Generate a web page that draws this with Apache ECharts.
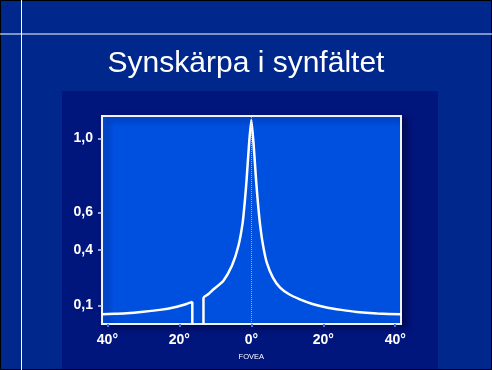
<!DOCTYPE html>
<html>
<head>
<meta charset="utf-8">
<script src="https://cdn.jsdelivr.net/npm/echarts@6/dist/echarts.min.js"></script>
<style>
  html, body { margin: 0; padding: 0; background: #00288c; }
  #chart { width: 492px; height: 370px; }
</style>
</head>
<body>
<div id="chart"></div>
<script>
// synskärpa (acuity) vs. vinkel från fovea
const peripheryAngles = [-41.5, -38, -34.6, -30, -25.4, -21, -18, -16.4, -16.4];
const peripheryAcuity = [0.052, 0.055, 0.058, 0.066, 0.076, 0.092, 0.108, 0.119, 0];

const centralAngles = [-13.3, -13.3, -12, -10.5, -7.8, -5.4, -3.6, -2.4, -1.75, -1.3, -0.7, 0,
  0.7, 1.3, 1.8, 2.4, 3.2, 4.3, 6, 8, 10.5, 13.5, 17, 20.9, 25, 29.3, 35, 41.6];
const centralAcuity = [0, 0.14, 0.16, 0.187, 0.232, 0.313, 0.42, 0.546, 0.672, 0.78, 0.95, 1.1,
  0.95, 0.78, 0.66, 0.54, 0.43, 0.33, 0.25, 0.196, 0.16, 0.133, 0.108, 0.089, 0.076, 0.065, 0.057, 0.052];

const xTicks = [-40, -20, 0, 20, 40];
const yTicks = [0.1, 0.4, 0.6, 1.0];

const toPairs = (xs, ys) => xs.map((x, i) => [x, ys[i]]);

const chart = echarts.init(document.getElementById('chart'));

const lineStyle = { color: '#ffffff', width: 2.5 };

const option = {
  backgroundColor: '#00288c',
  animation: false,
  graphic: [
    // ram runt hela bilden
    { type: 'rect', shape: { x: 0.5, y: 0.5, width: 491, height: 369 }, style: { fill: 'none', stroke: '#000', lineWidth: 1 } },
    // vita linjer
    { type: 'line', shape: { x1: 0, y1: 34, x2: 492, y2: 34 }, style: { stroke: '#ffffff', lineWidth: 1 } },
    { type: 'line', shape: { x1: 21.5, y1: 0, x2: 21.5, y2: 370 }, style: { stroke: '#ffffff', lineWidth: 1 } },
    // mörk panel bakom diagrammet
    { type: 'rect', z: -10, shape: { x: 62, y: 91, width: 376, height: 279 }, style: { fill: '#00167d' } },
    {
      type: 'text', left: 'center', top: 49,
      style: { text: 'Synskärpa i synfältet', fill: '#ffffff', font: '30px "Liberation Sans", Arial, sans-serif' }
    }
  ],
  grid: {
    left: 102, right: 91, top: 116, bottom: 46,
    show: true,
    backgroundColor: '#0050e0',
    borderColor: '#eef2fa',
    borderWidth: 2,
    shadowColor: 'rgba(0, 5, 60, 0.6)',
    shadowBlur: 6,
    shadowOffsetX: 5,
    shadowOffsetY: 3
  },
  xAxis: {
    type: 'value',
    min: -41.5,
    max: 41.6,
    splitLine: { show: false },
    axisLine: { show: false, onZero: false },
    axisTick: { show: true, customValues: xTicks, length: 3, lineStyle: { color: '#3f78e6', width: 2 } },
    axisLabel: {
      customValues: xTicks,
      margin: 9,
      color: '#ffffff',
      fontFamily: '"Liberation Sans", Arial, sans-serif',
      fontWeight: 'bold',
      fontSize: 14,
      formatter: v => v === 0 ? '0°\n{f|FOVEA}' : Math.abs(v) + '°',
      rich: {
        f: { fontSize: 7.5, fontWeight: 'normal', color: '#ffffff', padding: [6, 0, 0, 0] }
      }
    }
  },
  yAxis: {
    type: 'value',
    min: 0,
    max: 1.12,
    splitLine: { show: false },
    axisLine: { show: false, onZero: false },
    axisTick: { show: true, customValues: yTicks, length: 4, lineStyle: { color: '#c8d2e8', width: 1.5 } },
    axisLabel: {
      customValues: yTicks,
      margin: 9,
      color: '#ffffff',
      fontFamily: '"Liberation Sans", Arial, sans-serif',
      fontWeight: 'bold',
      fontSize: 14,
      formatter: v => v.toFixed(1).replace('.', ',')
    }
  },
  series: [
    {
      type: 'line',
      data: toPairs(peripheryAngles, peripheryAcuity),
      symbol: 'none',
      smooth: 0.2,
      lineStyle: lineStyle
    },
    {
      type: 'line',
      data: toPairs(centralAngles, centralAcuity),
      symbol: 'none',
      smooth: 0.2,
      lineStyle: lineStyle,
      markLine: {
        silent: true,
        symbol: 'none',
        label: { show: false },
        lineStyle: { color: 'rgba(190, 215, 255, 0.7)', type: 'dotted', width: 1 },
        data: [{ xAxis: 0 }]
      }
    }
  ]
};

chart.setOption(option);
</script>
</body>
</html>
